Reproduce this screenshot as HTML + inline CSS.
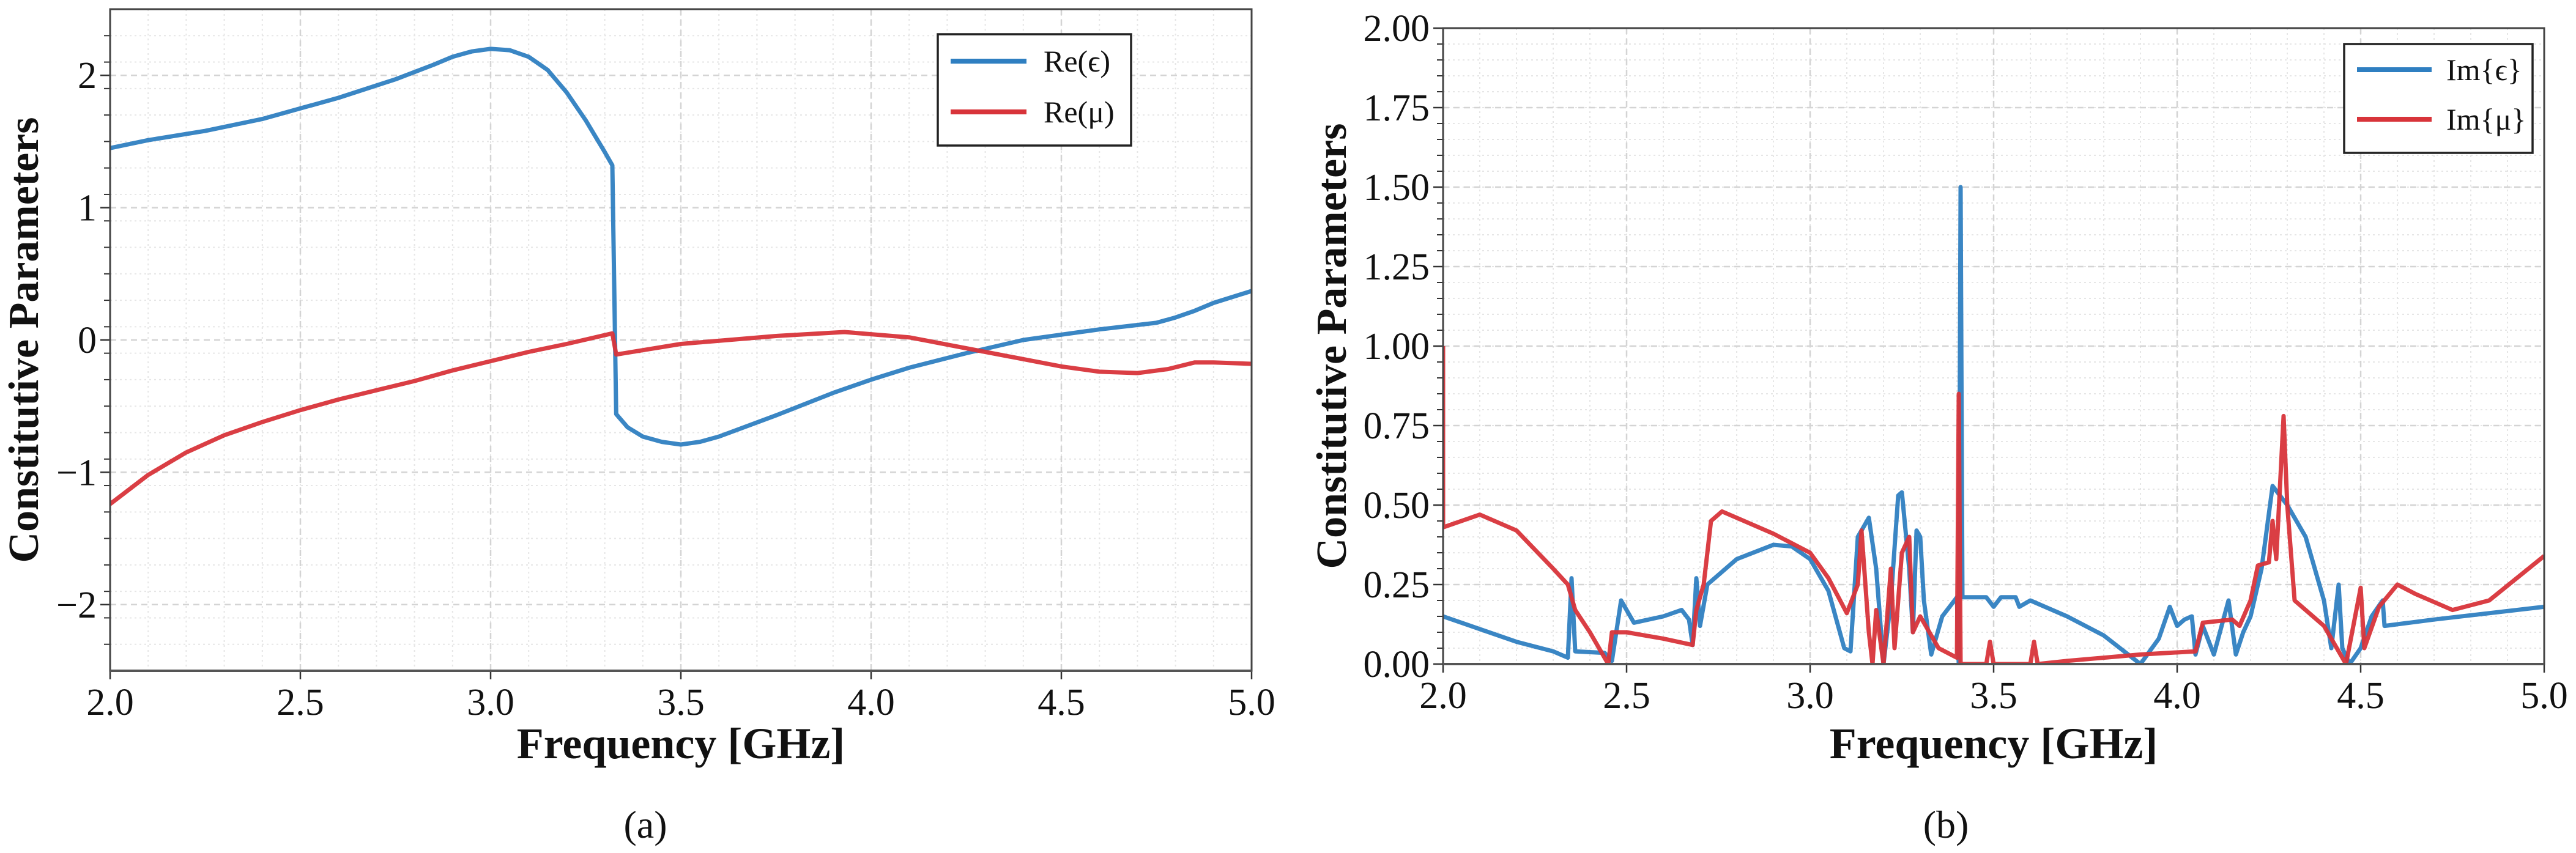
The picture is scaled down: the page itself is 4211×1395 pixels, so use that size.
<!DOCTYPE html>
<html><head><meta charset="utf-8"><style>
html,body{margin:0;padding:0;background:#fff;}
svg{display:block;}
text{font-family:"Liberation Serif",serif;fill:#111;}
</style></head><body>
<svg id="fig" width="4211" height="1395" viewBox="0 0 4211 1395" xmlns="http://www.w3.org/2000/svg">
<g id="pa"></g>
<g id="pb"></g>
</svg>
<script>
// Panel (a) data
const aFreqEps = [2.0,2.1,2.25,2.4,2.5,2.6,2.75,2.85,2.9,2.95,3.0,3.05,3.1,3.15,3.2,3.25,3.3,3.32,3.33,3.36,3.4,3.45,3.5,3.55,3.6,3.75,3.9,4.0,4.1,4.25,4.4,4.5,4.6,4.75,4.8,4.85,4.9,5.0];
const aReEps = [1.45,1.51,1.58,1.67,1.75,1.83,1.97,2.08,2.14,2.18,2.2,2.19,2.14,2.04,1.87,1.66,1.42,1.32,-0.56,-0.66,-0.73,-0.77,-0.79,-0.77,-0.73,-0.57,-0.4,-0.3,-0.21,-0.1,0.0,0.04,0.08,0.13,0.17,0.22,0.28,0.37];
const aFreqMu = [2.0,2.1,2.2,2.3,2.4,2.5,2.6,2.7,2.8,2.9,3.0,3.1,3.2,3.32,3.33,3.5,3.75,3.93,4.1,4.3,4.5,4.6,4.7,4.78,4.85,4.9,5.0];
const aReMu = [-1.24,-1.02,-0.85,-0.72,-0.62,-0.53,-0.45,-0.38,-0.31,-0.23,-0.16,-0.09,-0.03,0.05,-0.11,-0.03,0.03,0.06,0.02,-0.09,-0.2,-0.24,-0.25,-0.22,-0.17,-0.17,-0.18];
const aYTicks = [-2,-1,0,1,2];
const aYTickLabels = ["\u22122","\u22121","0","1","2"];
const xTicks = [2.0,2.5,3.0,3.5,4.0,4.5,5.0];
const xTickLabels = ["2.0","2.5","3.0","3.5","4.0","4.5","5.0"];
// Panel (b) data
const bFreqEps = [2.0,2.1,2.2,2.3,2.34,2.35,2.36,2.44,2.46,2.485,2.5,2.52,2.6,2.65,2.67,2.68,2.69,2.7,2.72,2.8,2.9,2.95,3.0,3.05,3.093,3.11,3.13,3.16,3.18,3.2,3.22,3.24,3.25,3.27,3.28,3.29,3.3,3.31,3.33,3.36,3.4,3.405,3.41,3.415,3.48,3.5,3.52,3.56,3.57,3.6,3.7,3.8,3.9,3.95,3.98,4.0,4.02,4.04,4.05,4.07,4.1,4.14,4.16,4.18,4.2,4.23,4.26,4.3,4.35,4.4,4.42,4.44,4.45,4.47,4.5,4.53,4.56,4.565,4.7,5.0];
const bImEps = [0.15,0.11,0.07,0.04,0.02,0.27,0.04,0.035,0.01,0.2,0.17,0.13,0.15,0.17,0.14,0.06,0.27,0.12,0.25,0.33,0.375,0.37,0.33,0.23,0.05,0.04,0.4,0.46,0.3,0.0,0.2,0.53,0.54,0.3,0.1,0.42,0.4,0.2,0.03,0.15,0.21,0.0,1.5,0.21,0.21,0.18,0.21,0.21,0.18,0.2,0.15,0.09,0.0,0.08,0.18,0.12,0.14,0.15,0.03,0.12,0.03,0.2,0.03,0.1,0.15,0.3,0.56,0.5,0.4,0.2,0.05,0.25,0.05,0.0,0.05,0.15,0.2,0.12,0.14,0.18];
const bFreqMu = [2.0,2.0,2.1,2.2,2.3,2.34,2.36,2.4,2.45,2.46,2.5,2.6,2.68,2.69,2.71,2.73,2.76,2.8,2.9,3.0,3.05,3.1,3.13,3.14,3.16,3.17,3.18,3.2,3.22,3.23,3.25,3.27,3.28,3.3,3.35,3.4,3.405,3.41,3.48,3.49,3.5,3.6,3.61,3.62,3.7,3.9,4.05,4.07,4.15,4.17,4.2,4.22,4.25,4.26,4.27,4.29,4.3,4.32,4.37,4.4,4.46,4.5,4.51,4.55,4.6,4.65,4.75,4.85,5.0];
const bImMu = [1.0,0.43,0.47,0.42,0.3,0.25,0.17,0.1,0.0,0.1,0.1,0.08,0.06,0.17,0.25,0.45,0.48,0.46,0.41,0.35,0.27,0.16,0.25,0.42,0.1,0.0,0.17,0.0,0.3,0.05,0.35,0.4,0.1,0.15,0.05,0.02,0.85,0.0,0.0,0.07,0.0,0.0,0.07,0.0,0.01,0.03,0.04,0.13,0.14,0.12,0.2,0.31,0.32,0.45,0.33,0.78,0.5,0.2,0.15,0.12,0.0,0.24,0.05,0.18,0.25,0.22,0.17,0.2,0.34];
const bYTicks = [0,0.25,0.5,0.75,1.0,1.25,1.5,1.75,2.0];
const bYTickLabels = ["0.00","0.25","0.50","0.75","1.00","1.25","1.50","1.75","2.00"];

const NS="http://www.w3.org/2000/svg";
const BLUE="#2f7fc1", RED="#d8343a";
function mk(parent,tag,attrs,txt){const e=document.createElementNS(NS,tag);for(const k in attrs)e.setAttribute(k,attrs[k]);if(txt!==undefined)e.textContent=txt;parent.appendChild(e);return e;}

function panel(g,cfg){
  const sx=v=>cfg.x0+(v-2)/3*(cfg.x1-cfg.x0);
  const sy=v=>cfg.y1-(v-cfg.ymin)/(cfg.ymax-cfg.ymin)*(cfg.y1-cfg.y0);
  for(let v=2.1;v<5;v+=0.1){
    const l=mk(g,"line",{x1:sx(v),x2:sx(v),y1:cfg.y0,y2:cfg.y1,stroke:"#e6e6e6","stroke-width":2,"stroke-dasharray":"3,5"});
    
    
  }
  for(let v=cfg.ymin+cfg.minor;v<cfg.ymax-1e-9;v+=cfg.minor){
    const l=mk(g,"line",{x1:cfg.x0,x2:cfg.x1,y1:sy(v),y2:sy(v),stroke:"#e6e6e6","stroke-width":2,"stroke-dasharray":"3,5"});
    
    
    const t=mk(g,"line",{x1:cfg.x0-10,x2:cfg.x0,y1:sy(v),y2:sy(v),stroke:"#333","stroke-width":2});
    
    
  }
  xTicks.forEach((v,i)=>{
    const l=mk(g,"line",{x1:sx(v),x2:sx(v),y1:cfg.y0,y2:cfg.y1,stroke:"#d4d4d4","stroke-width":2.5,"stroke-dasharray":"10,7"});
    
    
    const t=mk(g,"line",{x1:sx(v),x2:sx(v),y1:cfg.y1,y2:cfg.y1+14,stroke:"#333","stroke-width":2.5});
    
    
    const tx=mk(g,"text",{x:sx(v),y:cfg.y1+72,"font-size":62,"text-anchor":"middle"},xTickLabels[i]);
    
    
  });
  cfg.yt.forEach((v,i)=>{
    const l=mk(g,"line",{x1:cfg.x0,x2:cfg.x1,y1:sy(v),y2:sy(v),stroke:"#d4d4d4","stroke-width":2.5,"stroke-dasharray":"10,7"});
    
    
    const t=mk(g,"line",{x1:cfg.x0-16,x2:cfg.x0,y1:sy(v),y2:sy(v),stroke:"#333","stroke-width":2.5});
    
    
    const tx=mk(g,"text",{x:cfg.x0-22,y:sy(v)+21,"font-size":62,"text-anchor":"end"},cfg.ytl[i]);
    
    
  });
  const clip=mk(g,"clipPath",{id:cfg.id+"clip"});
  mk(clip,"rect",{x:cfg.x0,y:cfg.y0-4,width:cfg.x1-cfg.x0,height:cfg.y1-cfg.y0+4});
  cfg.series.forEach(s=>{
    const d=s.xs.map((x,i)=>(i?"L":"M")+sx(x).toFixed(1)+","+sy(s.ys[i]).toFixed(1)).join(" ");
    const p=mk(g,"path",{d:d,fill:"none",stroke:s.c,"stroke-width":7,"stroke-linejoin":"round","clip-path":"url(#"+cfg.id+"clip)",opacity:0.95});
    
    
  });
  const fr=mk(g,"rect",{x:cfg.x0,y:cfg.y0,width:cfg.x1-cfg.x0,height:cfg.y1-cfg.y0,fill:"none",stroke:"#444","stroke-width":3});
  
  
  const bl=mk(g,"line",{x1:cfg.x0,x2:cfg.x1,y1:cfg.y1,y2:cfg.y1,stroke:"#555","stroke-width":4});
  
  
  const L=cfg.leg;
  const lg=mk(g,"g",{});
  
  
  mk(lg,"rect",{x:L.x,y:L.y,width:L.w,height:L.h,fill:"#fff",stroke:"#222","stroke-width":3.5});
  cfg.series.forEach((s,i)=>{
    const yy=L.ly[i];
    const e=mk(lg,"g",{});
    
    
    mk(e,"line",{x1:L.lx0,x2:L.lx1,y1:yy,y2:yy,stroke:s.c,"stroke-width":8});
    mk(e,"text",{x:L.tx,y:yy+17,"font-size":50},s.label);
  });
  const yl=mk(g,"text",{x:cfg.ylx,y:(cfg.y0+cfg.y1)/2,"font-size":70,"font-weight":"bold","text-anchor":"middle",transform:"rotate(-90 "+cfg.ylx+" "+((cfg.y0+cfg.y1)/2)+")"},"Constitutive Parameters");
  
  
  const xl=mk(g,"text",{x:(cfg.x0+cfg.x1)/2,y:1240,"font-size":72,"font-weight":"bold","text-anchor":"middle"},"Frequency [GHz]");
  
  
  const cap=mk(g,"text",{x:cfg.capx,y:1370,"font-size":64,"text-anchor":"middle"},cfg.cap);
  
  
}

panel(document.getElementById("pa"),{id:"a",x0:180,x1:2046,y0:15,y1:1097,ymin:-2.5,ymax:2.5,minor:0.2,
  yt:aYTicks,ytl:aYTickLabels,ylx:62,capx:1055,cap:"(a)",
  series:[{xs:aFreqEps,ys:aReEps,c:BLUE,name:"re-eps-line",label:"Re(\u03f5)"},{xs:aFreqMu,ys:aReMu,c:RED,name:"re-mu-line",label:"Re(\u03bc)"}],
  leg:{x:1533,y:56,w:316,h:182,lx0:1554,lx1:1678,tx:1706,ly:[100,183]}});
panel(document.getElementById("pb"),{id:"b",x0:2359,x1:4159,y0:46,y1:1086,ymin:0,ymax:2,minor:0.05,
  yt:bYTicks,ytl:bYTickLabels,ylx:2200,capx:3181,cap:"(b)",
  series:[{xs:bFreqEps,ys:bImEps,c:BLUE,name:"im-eps-line",label:"Im{\u03f5}"},{xs:bFreqMu,ys:bImMu,c:RED,name:"im-mu-line",label:"Im{\u03bc}"}],
  leg:{x:3832,y:72,w:308,h:178,lx0:3853,lx1:3975,tx:3999,ly:[114,195]}});
</script>
</body></html>
